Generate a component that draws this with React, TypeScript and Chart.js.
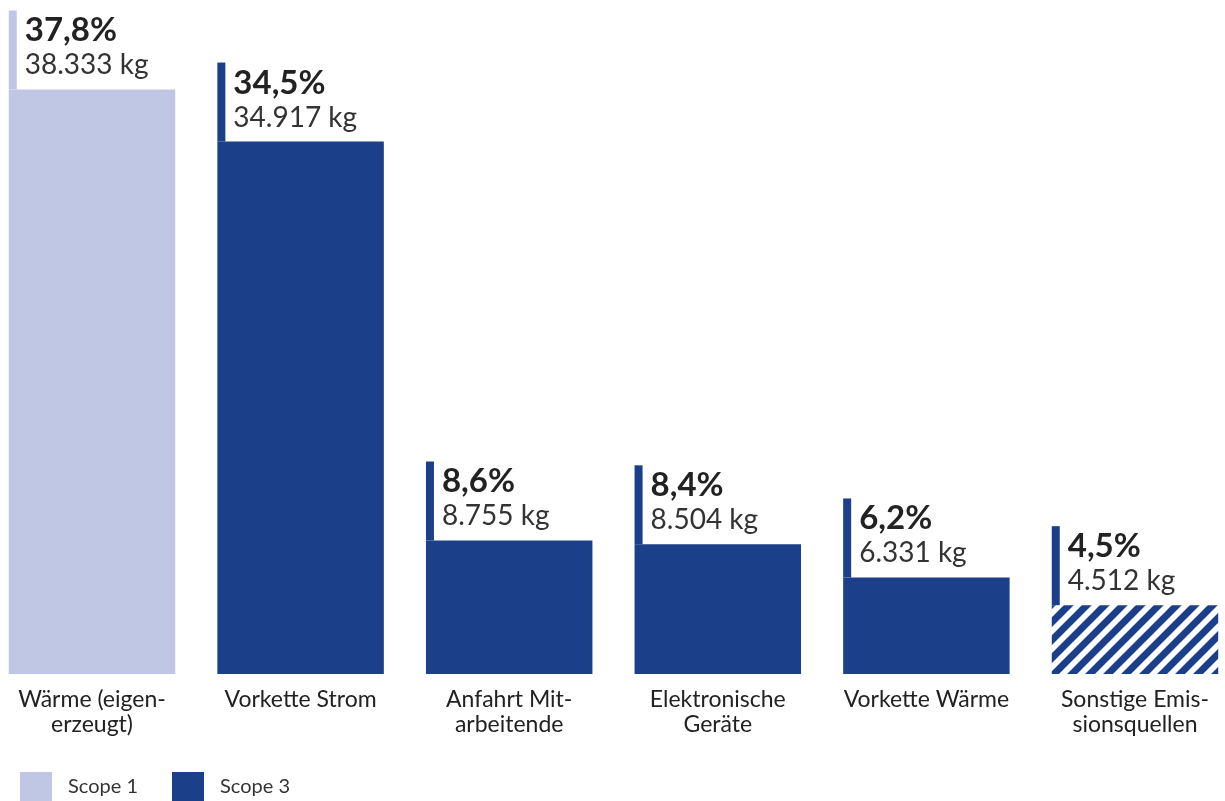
import { useEffect, useRef } from "react";
import { Chart, registerables } from "chart.js";

Chart.register(...registerables);

const categories: string[][] = [
  ["Wärme (eigen-", "erzeugt)"],
  ["Vorkette Strom"],
  ["Anfahrt Mit-", "arbeitende"],
  ["Elektronische", "Geräte"],
  ["Vorkette Wärme"],
  ["Sonstige Emis-", "sionsquellen"],
];
const values = [38333, 34917, 8755, 8504, 6331, 4512];
const percentLabels = ["37,8%", "34,5%", "8,6%", "8,4%", "6,2%", "4,5%"];
const kgLabels = ["38.333 kg", "34.917 kg", "8.755 kg", "8.504 kg", "6.331 kg", "4.512 kg"];
const scopeOfBar = [1, 3, 3, 3, 3, 3];
const hatchedBar = [false, false, false, false, false, true];
const legendLabels = ["Scope 1", "Scope 3"];

const LIGHT = "#bfc7e5";
const DARK = "#1b3f89";
const FONT = "Lato, 'Open Sans', sans-serif";

function makeHatch(): CanvasPattern | string {
  const s = 18;
  const c = document.createElement("canvas");
  c.width = s;
  c.height = s;
  const g = c.getContext("2d");
  if (!g) return DARK;
  g.fillStyle = "#ffffff";
  g.fillRect(0, 0, s, s);
  g.strokeStyle = DARK;
  g.lineWidth = 7;
  g.lineCap = "square";
  for (let k = -1; k <= 1; k++) {
    g.beginPath();
    g.moveTo(k * s - s, 2 * s);
    g.lineTo(k * s + 2 * s, -s);
    g.stroke();
  }
  const p = g.createPattern(c, "repeat");
  return p || DARK;
}

export default function App() {
  const ref = useRef<HTMLCanvasElement | null>(null);

  useEffect(() => {
    document.body.style.margin = "0";
    const canvas = ref.current;
    if (!canvas) return;
    const hatch = makeHatch();
    const colors = values.map((_, i) =>
      hatchedBar[i] ? hatch : scopeOfBar[i] === 1 ? LIGHT : DARK
    );
    const lineColors = values.map((_, i) => (scopeOfBar[i] === 1 ? LIGHT : DARK));

    const labelPlugin = {
      id: "barLabels",
      afterDatasetsDraw(chart: any) {
        const ctx = chart.ctx;
        const meta = chart.getDatasetMeta(0);
        ctx.save();
        meta.data.forEach((el: any, i: number) => {
          const left = el.x - el.width / 2;
          ctx.fillStyle = lineColors[i];
          ctx.fillRect(left, el.y - 79, 8, 79);
          ctx.textAlign = "left";
          ctx.textBaseline = "alphabetic";
          ctx.fillStyle = "#222222";
          ctx.font = `bold 33px ${FONT}`;
          ctx.fillText(percentLabels[i], left + 16, el.y - 48);
          ctx.fillStyle = "#333333";
          ctx.font = `28px ${FONT}`;
          ctx.fillText(kgLabels[i], left + 16, el.y - 15);
        });
        ctx.restore();
      },
      afterDraw(chart: any) {
        const ctx = chart.ctx;
        ctx.save();
        const boxX = [20, 172];
        const fills = [LIGHT, DARK];
        legendLabels.forEach((t, i) => {
          ctx.fillStyle = fills[i];
          ctx.fillRect(boxX[i], 772, 32, 29);
          ctx.fillStyle = "#333333";
          ctx.font = `20px ${FONT}`;
          ctx.textAlign = "left";
          ctx.textBaseline = "middle";
          ctx.fillText(t, boxX[i] + 48, 787);
        });
        ctx.restore();
      },
    };

    const chart = new Chart(canvas, {
      type: "bar",
      data: {
        datasets: [
          {
            data: values.map((v, i) => ({ x: i, y: v })),
            backgroundColor: colors as any,
            borderWidth: 0,
            barPercentage: 0.798,
            categoryPercentage: 1,
          },
        ],
      },
      options: {
        animation: false,
        responsive: true,
        maintainAspectRatio: false,
        layout: { padding: 0 },
        plugins: {
          legend: { display: false },
          tooltip: { enabled: false },
        },
        scales: {
          x: {
            type: "linear",
            min: -0.441,
            max: 5.4315,
            offset: false,
            grid: { display: false },
            border: { display: false },
            afterBuildTicks: (scale: any) => {
              scale.ticks = categories.map((_, i) => ({ value: i }));
            },
            afterFit: (scale: any) => {
              scale.height = 127;
            },
            ticks: {
              autoSkip: false,
              maxRotation: 0,
              minRotation: 0,
              padding: 6,
              color: "#222222",
              font: { family: FONT, size: 23, lineHeight: 1.05 },
              callback: (v: any) => categories[Number(v)] ?? "",
            },
          },
          y: {
            display: false,
            min: 0,
            max: 44200,
          },
        },
      },
      plugins: [labelPlugin],
    });
    return () => chart.destroy();
  }, []);

  return (
    <div style={{ width: 1225, height: 801, position: "relative" }}>
      <canvas ref={ref} />
    </div>
  );
}
